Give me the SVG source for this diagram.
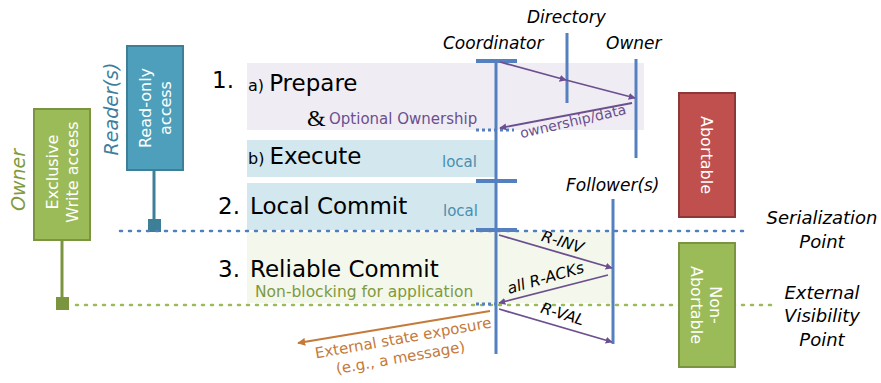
<svg xmlns="http://www.w3.org/2000/svg" width="881" height="383" viewBox="0 0 881 383">
<defs>
<style>
text{font-family:"DejaVu Sans","Liberation Sans",sans-serif;}
.big{font-size:23px;fill:#000;}
.sm{font-size:16px;fill:#000;}
.it{font-style:italic;font-size:17px;fill:#000;}
.pl{font-style:italic;font-size:18px;fill:#000;text-anchor:middle;}
.local{font-size:15px;fill:#4a8fb0;}
.vt{font-size:16px;fill:#fff;text-anchor:middle;}
.life{stroke:#5580bf;stroke-width:3;fill:none;}
.bar{stroke:#5580bf;stroke-width:4;fill:none;}
.msg{stroke:#6b4f8f;stroke-width:1.8;fill:none;marker-end:url(#ah);}
.ml{font-size:15.5px;fill:#000;font-style:italic;text-anchor:middle;}
</style>
<marker id="ah" viewBox="0 0 10 10" refX="9" refY="5" markerWidth="7" markerHeight="7" orient="auto" markerUnits="userSpaceOnUse">
<path d="M0,0 L10,5 L0,10 z" fill="#6b4f8f"/>
</marker>
<marker id="ao" viewBox="0 0 10 10" refX="9" refY="5" markerWidth="8" markerHeight="8" orient="auto" markerUnits="userSpaceOnUse">
<path d="M0,0 L10,5 L0,10 z" fill="#c47a3a"/>
</marker>
</defs>

<g id="phases">
<rect x="247" y="63" width="397" height="67" fill="#efedf3"/>
<rect x="247" y="140" width="250" height="37" fill="#d3e7ee"/>
<rect x="247" y="183" width="250" height="47" fill="#d3e7ee"/>
<rect x="247" y="232" width="365" height="71" fill="#f4f7ec"/>
</g>

<g id="owner-role">
<text transform="translate(25,180) rotate(-90)" text-anchor="middle" style="font-size:19px;font-style:italic;fill:#7f9a3f;">Owner</text>
<line x1="62" y1="240" x2="62" y2="300" stroke="#7a9440" stroke-width="3"/>
<rect x="56" y="297" width="13" height="13" fill="#7a9440"/>
<rect x="34" y="109" width="56" height="131" fill="#9bbb59" stroke="#7a9440" stroke-width="2"/>
<text class="vt" transform="translate(62,172) rotate(-90)"><tspan x="0" dy="-4">Exclusive</tspan><tspan x="0" dy="20">Write access</tspan></text>
</g>

<g id="reader-role">
<text transform="translate(118,109) rotate(-90)" text-anchor="middle" style="font-size:19px;font-style:italic;fill:#3e7f9e;">Reader(s)</text>
<line x1="154" y1="170" x2="154" y2="222" stroke="#3d7f96" stroke-width="3"/>
<rect x="148" y="219" width="13" height="13" fill="#3d7f96"/>
<rect x="127" y="46" width="56" height="124" fill="#4e9fbb" stroke="#3d7f96" stroke-width="2"/>
<text class="vt" transform="translate(155,108) rotate(-90)"><tspan x="0" dy="-4">Read-only</tspan><tspan x="0" dy="20">access</tspan></text>
</g>

<g id="points">
<line x1="120" y1="231" x2="750" y2="231" stroke="#4f7fbf" stroke-width="2.5" stroke-dasharray="2 7" stroke-linecap="round"/>
<line x1="76" y1="305" x2="772" y2="305" stroke="#9bbb59" stroke-width="2.5" stroke-dasharray="2 7" stroke-linecap="round"/>
</g>

<g id="labels">
<text class="big" x="212" y="88">1.</text>
<text x="248" y="91"><tspan class="sm">a) </tspan><tspan class="big">Prepare</tspan></text>
<text x="307" y="126" style="font-family:'Liberation Serif',serif;font-size:24px;fill:#000;">&amp;</text>
<text x="329" y="124" style="font-size:15px;fill:#6b4f8f;">Optional Ownership</text>
<text x="248" y="164"><tspan class="sm">b) </tspan><tspan class="big">Execute</tspan></text>
<text class="local" x="442" y="167">local</text>
<text class="big" x="218" y="214">2.</text>
<text class="big" x="250" y="214">Local Commit</text>
<text class="local" x="443" y="216">local</text>
<text class="big" x="218" y="277">3.</text>
<text class="big" x="250" y="277">Reliable Commit</text>
<text x="255" y="297" style="font-size:15.5px;fill:#7f9a3f;">Non-blocking for application</text>
</g>

<g id="lifelines">
<text class="it" x="443" y="49">Coordinator</text>
<text class="it" x="527" y="23">Directory</text>
<text class="it" x="606" y="49">Owner</text>
<text class="it" x="566" y="191">Follower(s)</text>
<line class="life" x1="496" y1="61" x2="496" y2="354"/>
<line class="life" x1="567" y1="33" x2="567" y2="103"/>
<line class="life" x1="636" y1="59" x2="636" y2="158"/>
<line class="life" x1="613" y1="199" x2="613" y2="344"/>
<line class="bar" x1="476" y1="61" x2="517" y2="61"/>
<line x1="476" y1="130" x2="514" y2="130" stroke="#5580bf" stroke-width="3" stroke-dasharray="3 3"/>
<line class="bar" x1="476" y1="181" x2="517" y2="181"/>
<line class="bar" x1="476" y1="230" x2="517" y2="230"/>
<line x1="476" y1="304" x2="498" y2="304" stroke="#5580bf" stroke-width="3" stroke-dasharray="3 3"/>
</g>

<g id="connectors">
<line class="msg" x1="500" y1="62" x2="566" y2="80"/>
<line class="msg" x1="566" y1="80" x2="635" y2="98"/>
<line class="msg" x1="632" y1="103" x2="500" y2="128"/>
<text style="font-size:14px;fill:#6b4f8f;text-anchor:middle" transform="translate(574,126) rotate(-13)">ownership/data</text>
<line class="msg" x1="499" y1="235" x2="612" y2="268"/>
<text class="ml" transform="translate(561,247) rotate(17)">R-INV</text>
<line class="msg" x1="608" y1="275" x2="499" y2="303"/>
<text class="ml" transform="translate(547,283) rotate(-16)">all R-ACKs</text>
<line class="msg" x1="499" y1="309" x2="612" y2="342"/>
<text class="ml" transform="translate(561,319) rotate(17)">R-VAL</text>
<line x1="490" y1="311" x2="298" y2="343" stroke="#c47a3a" stroke-width="2" marker-end="url(#ao)"/>
<text transform="translate(404,343) rotate(-10)" text-anchor="middle" style="font-size:15px;fill:#c47a3a;"><tspan x="0" dy="0">External state exposure</tspan><tspan x="-6" dy="19">(e.g., a message)</tspan></text>
</g>

<g id="abortable">
<rect x="679" y="93" width="56" height="124" fill="#c0504d" stroke="#8c3836" stroke-width="2"/>
<text class="vt" transform="translate(707,155) rotate(90)" dy="6">Abortable</text>
</g>
<g id="non-abortable">
<rect x="679" y="243" width="56" height="124" fill="#9bbb59" stroke="#7a9440" stroke-width="2"/>
<text class="vt" transform="translate(707,305) rotate(90)"><tspan x="0" dy="-3">Non-</tspan><tspan x="0" dy="19">Abortable</tspan></text>
</g>

<g id="point-labels">
<text class="pl" x="822" y="224">Serialization</text>
<text class="pl" x="822" y="248">Point</text>
<text class="pl" x="822" y="299">External</text>
<text class="pl" x="822" y="322">Visibility</text>
<text class="pl" x="822" y="346">Point</text>
</g>
</svg>
